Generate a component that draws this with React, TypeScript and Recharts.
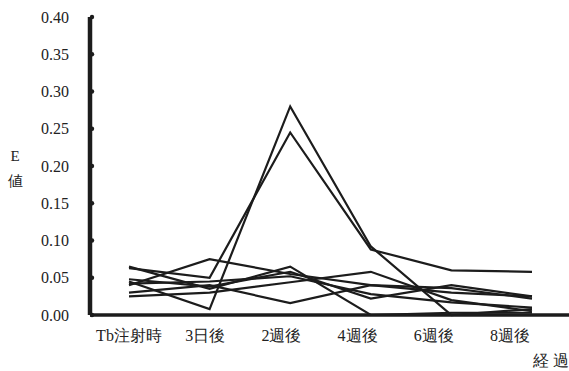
import React from 'react';
import { LineChart, Line, XAxis, YAxis } from 'recharts';

const categories = ['Tb注射時', '3日後', '2週後', '4週後', '6週後', '8週後'];
const yTicks = [0, 0.05, 0.1, 0.15, 0.2, 0.25, 0.3, 0.35, 0.4];

const s1 = [0.045, 0.008, 0.28, 0.092, 0.0, 0.008];
const s2 = [0.063, 0.05, 0.245, 0.088, 0.06, 0.058];
const s3 = [0.04, 0.075, 0.055, 0.04, 0.03, 0.025];
const s4 = [0.065, 0.035, 0.065, 0.0, 0.003, 0.003];
const s5 = [0.03, 0.04, 0.016, 0.04, 0.036, 0.022];
const s6 = [0.025, 0.03, 0.044, 0.058, 0.02, 0.005];
const s7 = [0.048, 0.038, 0.058, 0.022, 0.04, 0.025];
const s8 = [0.042, 0.045, 0.052, 0.028, 0.017, 0.01];

const seriesList = [s1, s2, s3, s4, s5, s6, s7, s8];

const data = categories.map((c, i) => {
  const row: any = { cat: c };
  seriesList.forEach((s, k) => {
    row['s' + (k + 1)] = s[i];
  });
  return row;
});

const FONT = 'Liberation Serif, DejaVu Serif, serif';
const INK = '#1c1c1c';

const YTick = (props: any) => {
  const { x, y, payload } = props;
  return (
    <g>
      <circle cx={x + 23} cy={y} r={2.2} fill={INK} />
      <text x={x} y={y} dy="0.355em" textAnchor="end" fontFamily={FONT} fontSize={16} fill="#222">
        {Number(payload.value).toFixed(2)}
      </text>
    </g>
  );
};

const XTick = (props: any) => {
  const { x, y, payload } = props;
  return (
    <text x={x} y={y} dy="0.71em" textAnchor="middle" fontFamily={FONT} fontSize={16} fill="#222">
      {payload.value}
    </text>
  );
};

export default function App() {
  return (
    <div style={{ position: 'absolute', left: 0, top: 0, width: 569, height: 371, background: '#fff', fontFamily: FONT }}>
      <LineChart width={569} height={371} data={data} margin={{ top: 17, right: 0, bottom: 0, left: 0 }}>
        <XAxis xAxisId="main" dataKey="cat" hide padding={{ left: 39, right: 37 }} />
        <XAxis
          xAxisId="lab"
          dataKey="cat"
          height={56}
          padding={{ left: 39, right: 59 }}
          axisLine={{ stroke: INK, strokeWidth: 3.5 }}
          tickLine={false}
          tickSize={0}
          tickMargin={15}
          interval={0}
          tick={<XTick />}
        />
        <YAxis
          width={90}
          domain={[0, 0.4]}
          ticks={yTicks}
          type="number"
          axisLine={{ stroke: INK, strokeWidth: 4.5 }}
          tickLine={false}
          tickSize={0}
          tickMargin={21}
          interval={0}
          tick={<YTick />}
        />
        {seriesList.map((_, k) => (
          <Line
            key={k}
            xAxisId="main"
            dataKey={'s' + (k + 1)}
            stroke={INK}
            strokeWidth={2.2}
            dot={false}
            isAnimationActive={false}
            type="linear"
          />
        ))}
        <text x={15} y={161} textAnchor="middle" fontFamily={FONT} fontSize={15} fill="#222">E</text>
        <text x={15} y={186} textAnchor="middle" fontFamily={FONT} fontSize={15} fill="#222">値</text>
        <text x={533} y={366} fontFamily={FONT} fontSize={16} fill="#222">経 過</text>
      </LineChart>
    </div>
  );
}
